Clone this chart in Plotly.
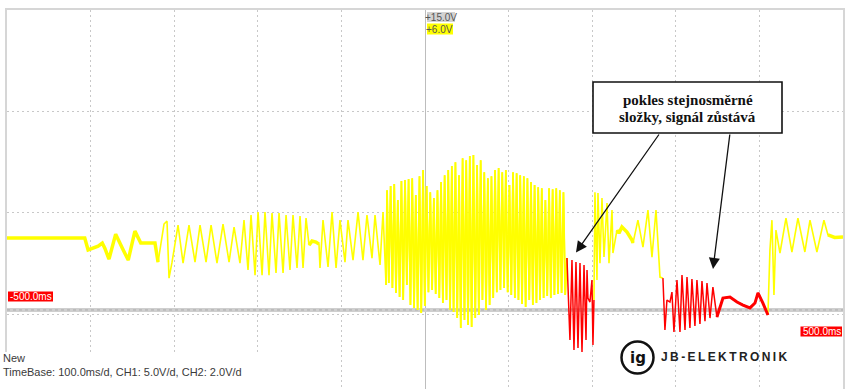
import plotly.graph_objects as go

# ---------------- data ----------------
# time in ms (100 ms/div), value in V on the CH1 screen scale (5 V/div)
ch1_t = [
    -500, -407, -403, -396, -391, -386, -383, -378, -370, -362, -355, -347, -340, -323,
    -319.3, -312.2, -308.6, -306.2, -302.6, -295.4, -289.4, -282.3, -275.1, -269.1,
    -261.9, -255.9, -248.8, -241.6, -234.4, -228.4, -221.3, -216.5, -211.7, -208.1,
    -203.3, -199.7, -194.9, -191.4, -186.6, -183.0, -178.2, -174.6, -169.8, -166.2,
    -161.5, -157.9, -153.1, -149.5, -145.9, -142.3, -138.7, -135.1, -130.4, -126.8,
    -125.6, -122.0, -116.0, -111.2, -106.4, -101.7, -95.7, -92.1, -86.1, -80.1,
    -74.2, -69.4, -63.4, -59.8, -53.8, -50.2, -46.6,
    -45.4, -43.3, -41.1, -39.0, -36.8, -34.7, -32.5, -30.4, -28.2, -26.1,
    -23.9, -21.7, -19.6, -17.4, -15.3, -13.1, -11.0, -8.8, -6.6, -4.5,
    -2.3, -0.2, 2.0, 4.1, 6.3, 8.5, 10.6, 12.8, 14.9, 17.1,
    19.2, 21.4, 23.5, 25.7, 27.8, 30.0, 32.1, 34.2, 36.4, 38.5,
    40.7, 42.8, 45.0, 47.2, 49.3, 51.5, 53.6, 55.8, 57.9, 60.1,
    62.3, 64.4, 66.6, 68.7, 70.9, 73.0, 75.2, 77.3, 79.5, 81.6,
    83.8, 85.9, 88.1, 90.2, 92.4, 94.6, 96.7, 98.9, 101.0, 103.2,
    105.3, 107.5, 109.6, 111.8, 113.9, 116.1, 118.2, 120.4, 122.5, 124.7,
    126.8, 129.0, 131.1, 133.3, 135.4, 137.6, 139.7, 141.9, 144.0, 146.2,
    148.4, 150.5, 152.7, 154.8, 157.0, 159.1, 161.3, 163.4, 165.6, 167.7,
    169.8,
    None,
    202.1, 203.3, 205.7, 206.9, 209.3, 211.7, 214.1, 217.7, 220.1, 223.7, 224.8, 229.6,
    232.0, 235.6, 241.6, 247.6, 248.8, 254.7, 260.7, 266.7, 271.5, 276.3, 281.1, 284.6,
    None,
    410.2, 412.6, 415.0, 417.4, 419.8, 424.6, 431.8, 438.9, 446.1, 454.4, 460.5, 468.8,
    477.2, 482.0, 490, 500,
]
ch1_v = [
    3.75, 3.75, 3.16, 3.25, 3.35, 3.5, 3.25, 2.71, 3.94, 3.25, 2.66, 4.09, 3.5, 3.5,
    2.56, 4.44, 4.58, 1.77, 2.56, 4.39, 2.51, 4.39, 2.56, 4.39,
    2.56, 4.39, 2.51, 4.44, 2.56, 4.29, 2.51, 4.63, 2.17, 4.88,
    1.92, 5.03, 1.92, 5.03, 1.92, 4.98, 2.02, 4.98, 2.02, 4.88,
    2.17, 4.88, 2.27, 4.83, 2.27, 4.73, 3.40, 3.60, 3.55, 3.45,
    2.27, 4.63, 2.32, 5.03, 2.27, 4.63, 2.56, 4.63, 2.66, 5.03,
    2.66, 4.88, 2.76, 4.88, 2.42, 5.03, 1.43,
    6.11, 1.53, 6.31, 1.28, 6.41, 1.04, 5.62, 0.84, 6.56, 0.69,
    6.61, 1.43, 6.66, 0.44, 6.70, 0.30, 5.87, 0.20, 6.80, 0.05,
    7.10, 0.39, 6.31, 1.08, 6.01, 1.18, 5.72, 0.99, 6.11, 0.79,
    6.51, 0.54, 6.85, 0.69, 7.10, 0.20, 7.30, 0.10, 7.49, -0.20,
    6.85, -0.69, 7.69, -0.30, 7.59, -0.54, 7.79, -0.64, 7.84, -0.20,
    7.35, -0.05, 7.59, 0.69, 7.00, 0.20, 6.70, 0.44, 6.80, 0.79,
    7.10, 1.08, 7.20, 1.18, 7.00, 1.28, 7.10, 1.08, 6.36, 0.94,
    7.00, 0.79, 6.95, 0.69, 6.85, 0.49, 6.80, 0.35, 6.70, 0.69,
    6.51, 0.44, 6.36, 0.54, 6.26, 0.69, 6.21, 0.79, 5.62, 0.89,
    6.21, 0.79, 6.16, 0.94, 6.21, 0.99, 6.11, 1.04, 6.01, 0.94,
    2.76,
    None,
    0.69, 6.01, 1.68, 5.97, 2.51, 5.72, 2.81, 5.47, 2.51, 5.13, 3.01, 4.14,
    3.99, 4.29, 4.04, 3.65, 3.50, 4.63, 3.30, 5.13, 2.81, 5.13, 1.82, 1.77,
    None,
    -0.05, 3.16, 4.63, 0.94, 4.14, 3.01, 4.73, 3.06, 4.73, 3.06, 4.63, 3.06,
    4.63, 3.90, 3.78, 3.80,
]

# highlighted (red) parts of CH1: "pokles stejnosměrné složky"
red_t = [
    169.8, 173.4, 175.8, 178.2, 180.6, 183.0, 185.4, 187.8, 190.2, 192.6, 193.8, 194.9,
    197.3, 199.7, 200.9, 202.1,
    None,
    284.6, 287.0, 289.4, 293.0, 295.4, 297.8, 301.4, 305.0, 307.4, 311.0, 313.4, 316.9,
    319.3, 322.9, 325.3, 328.9, 331.3, 334.9, 337.3, 340.9, 344.4, 349.2, 356.4, 364.8,
    373.2, 380.3, 388.7, 394.7, 398.3, 404.2, 410.2,
]
red_v = [
    2.76, -1.28, 2.66, -1.77, 2.56, -1.68, 2.51, -1.87, 2.42, -1.28, 2.17, 0.79,
    0.59, 1.68, -1.53, 0.69,
    None,
    1.77, -0.79, 0.69, 0.59, 1.08, -0.89, 1.68, -0.89, 1.92, -0.79, 1.82, -0.69,
    1.73, -0.59, 1.68, -0.49, 1.63, -0.35, 1.53, -0.20, 1.33, -0.15, 0.79, 0.84,
    0.59, 0.44, 0.30, 0.54, 1.04, 0.54, -0.05,
]

# CH2 (gray), flat
ch2_t = [-500, 500]
ch2_v = [0.2, 0.2]

# stretches that show as a thicker trace (time windows, ms)
thick_yellow_windows = [(-500, -319), (-139, -126), (229, 249), (482, 500)]
burst_windows = [(-47, 170)]
thick_red_windows = [(349, 411)]

# texts
top_labels = ["+15.0V", "+6.0V"]
time_labels = ["-500.0ms", "500.0ms"]
status_lines = ["New", "TimeBase: 100.0ms/d, CH1: 5.0V/d, CH2: 2.0V/d"]
note_lines = ["pokles stejnosměrné", "složky, signál zůstává"]
logo_text = "JB-ELEKTRONIK"

X_RANGE = [-500, 500]
Y_RANGE = [-3.70, 15]


def pick(ts, vs, windows):
    ot, ov = [], []
    for a, b in windows:
        for t, v in zip(ts, vs):
            if t is not None and a <= t <= b:
                ot.append(t)
                ov.append(v)
        ot.append(None)
        ov.append(None)
    return ot, ov


YELLOW = "#ffff00"
RED = "#ff0000"

fig = go.Figure()
fig.add_trace(go.Scatter(x=ch2_t, y=ch2_v, mode="lines",
                         line=dict(color="#cfcfcf", width=4), hoverinfo="skip"))
fig.add_trace(go.Scatter(x=ch2_t, y=ch2_v, mode="lines",
                         line=dict(color="#ababab", width=1, dash="dot"), hoverinfo="skip"))
fig.add_trace(go.Scatter(x=ch1_t, y=ch1_v, mode="lines", connectgaps=False,
                         line=dict(color=YELLOW, width=1.6), hoverinfo="skip"))
tb, vb = pick(ch1_t, ch1_v, burst_windows)
fig.add_trace(go.Scatter(x=tb, y=vb, mode="lines", connectgaps=False,
                         line=dict(color=YELLOW, width=1.8), hoverinfo="skip"))
ty, vy = pick(ch1_t, ch1_v, thick_yellow_windows)
fig.add_trace(go.Scatter(x=ty, y=vy, mode="lines", connectgaps=False,
                         line=dict(color=YELLOW, width=3.5), hoverinfo="skip"))
fig.add_trace(go.Scatter(x=red_t, y=red_v, mode="lines", connectgaps=False,
                         line=dict(color=RED, width=1.5), hoverinfo="skip"))
tr, vr = pick(red_t, red_v, thick_red_windows)
fig.add_trace(go.Scatter(x=tr, y=vr, mode="lines", connectgaps=False,
                         line=dict(color=RED, width=3), hoverinfo="skip"))

W, H = 850, 389
ML, MR, MT, MB = 7, 7, 10, 0
PW, PH = W - ML - MR, H - MT - MB


def px(x):
    return (x - ML) / PW


def py(y):
    return (H - MB - y) / PH


shapes = []
annos = []


def note(x, y, text, font, xanchor="center", **kw):
    d = dict(x=px(x), y=py(y), xref="paper", yref="paper", text=text, showarrow=False,
             xanchor=xanchor, yanchor="middle", font=font)
    d.update(kw)
    annos.append(d)


def box(x0, x1, y0, y1, fill, line=None, layer="above"):
    shapes.append(dict(type="rect", xref="paper", yref="paper", x0=px(x0), x1=px(x1),
                       y0=py(y1), y1=py(y0), fillcolor=fill,
                       line=line or dict(width=0), layer=layer))


# white status area in the bottom-left corner
box(0, 300, 352, 389, "white")

# top channel labels
NARROW = "Liberation Sans Narrow, Liberation Sans"
box(427, 455, 12, 22, "#d2d2d2", layer="below")
box(427, 453, 23.5, 34.5, YELLOW, layer="below")
note(441, 17, top_labels[0], dict(family=NARROW, size=10, color="#555555"))
note(440, 29, top_labels[1], dict(family=NARROW, size=10, color="#555555"))

# time markers
box(8, 53, 291.5, 301.5, RED)
box(800.5, 842, 326.5, 336.5, RED)
note(30.5, 296.5, time_labels[0], dict(family="Liberation Sans", size=10, color="white"))
note(821.5, 331.5, time_labels[1], dict(family="Liberation Sans", size=10, color="white"))

# status text
note(1, 357.5, status_lines[0], dict(family="Liberation Sans", size=11, color="#3a3a3a"),
     xanchor="left")
note(1, 371.5, status_lines[1], dict(family="Liberation Sans", size=11, color="#3a3a3a"),
     xanchor="left")

# note box
box(593, 782, 82, 133, "white", line=dict(color="#111111", width=1.6))
note(687.5, 99.5, "<b>%s</b>" % note_lines[0],
     dict(family="Liberation Serif", size=15, color="#111111"))
note(687.5, 117, "<b>%s</b>" % note_lines[1],
     dict(family="Liberation Serif", size=15, color="#111111"))

# arrows
for hx, hy, ax, ay in [(576, 252.5, 84, -119.5), (713, 269, 17, -136)]:
    annos.append(dict(x=px(hx), y=py(hy), xref="paper", yref="paper", text="",
                      showarrow=True, ax=ax, ay=ay, arrowhead=2, arrowsize=1.7,
                      arrowwidth=1.3, arrowcolor="#111111", standoff=0))

# logo
shapes.append(dict(type="circle", xref="paper", yref="paper", xsizemode="pixel",
                   ysizemode="pixel", xanchor=px(637.5), yanchor=py(357.5),
                   x0=-16, x1=16, y0=-16, y1=16, line=dict(color="#111111", width=2.5),
                   fillcolor="white", layer="above"))
note(637.5, 358, "<b>ig</b>", dict(family="DejaVu Sans", size=15, color="#111111"))
note(659, 357, "\u2009".join(logo_text),
     dict(family="Liberation Sans", size=12, color="#222222", weight="bold"),
     xanchor="left")

GRID = "#c8c8c8"
fig.update_layout(
    width=W, height=H,
    margin=dict(l=ML, r=MR, t=MT, b=MB, pad=0),
    paper_bgcolor="white", plot_bgcolor="white",
    showlegend=False,
    shapes=shapes, annotations=annos,
    xaxis=dict(range=X_RANGE, tick0=0, dtick=100, showgrid=True, gridcolor=GRID,
               griddash="2px,3px", gridwidth=1, zeroline=True, zerolinecolor="#bdbdbd",
               zerolinewidth=1, showticklabels=False, ticks="", showline=True,
               linecolor="#d6d6d6", linewidth=2, side="top", mirror=False, fixedrange=True),
    yaxis=dict(range=Y_RANGE, tick0=0, dtick=5, showgrid=True, gridcolor=GRID,
               griddash="2px,3px", gridwidth=1, zeroline=False, showticklabels=False, ticks="",
               showline=True, linecolor="#d6d6d6", linewidth=2, mirror=True, fixedrange=True),
)

fig.write_html("out.html", config={"displayModeBar": False})
